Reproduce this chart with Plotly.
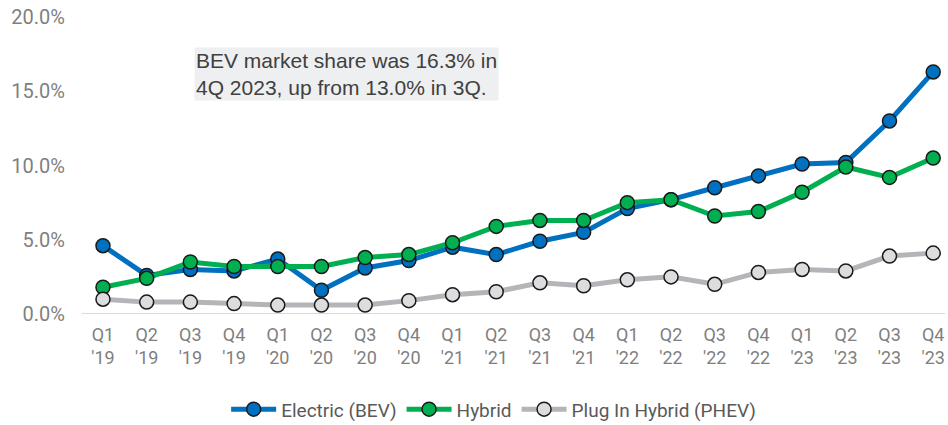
import plotly.graph_objects as go

quarters = ["Q1<br>'19", "Q2<br>'19", "Q3<br>'19", "Q4<br>'19",
            "Q1<br>'20", "Q2<br>'20", "Q3<br>'20", "Q4<br>'20",
            "Q1<br>'21", "Q2<br>'21", "Q3<br>'21", "Q4<br>'21",
            "Q1<br>'22", "Q2<br>'22", "Q3<br>'22", "Q4<br>'22",
            "Q1<br>'23", "Q2<br>'23", "Q3<br>'23", "Q4<br>'23"]

bev = [4.6, 2.6, 3.0, 2.9, 3.7, 1.6, 3.1, 3.6, 4.5, 4.0,
       4.9, 5.5, 7.1, 7.7, 8.5, 9.3, 10.1, 10.2, 13.0, 16.3]
hybrid = [1.8, 2.4, 3.5, 3.2, 3.2, 3.2, 3.8, 4.0, 4.8, 5.9,
          6.3, 6.3, 7.5, 7.7, 6.6, 6.9, 8.2, 9.9, 9.2, 10.5]
phev = [1.0, 0.8, 0.8, 0.7, 0.6, 0.6, 0.6, 0.9, 1.3, 1.5,
        2.1, 1.9, 2.3, 2.5, 2.0, 2.8, 3.0, 2.9, 3.9, 4.1]

y_ticks = [0, 5, 10, 15, 20]
y_tick_labels = ["0.0%", "5.0%", "10.0%", "15.0%", "20.0%"]

FONT = "Roboto, Liberation Sans, sans-serif"
idx = list(range(len(quarters)))

series = [
    ("Electric (BEV)", bev, "#0070c0", "#0070c0"),
    ("Hybrid", hybrid, "#00b050", "#00b050"),
    ("Plug In Hybrid (PHEV)", phev, "#b4b5b8", "#dcdddf"),
]

fig = go.Figure()
for name, vals, lc, mc in series:
    fig.add_trace(go.Scatter(
        x=idx, y=vals, name=name, mode="lines+markers",
        line=dict(color=lc, width=5),
        marker=dict(color=mc, size=14, line=dict(color="#1a1a1a", width=1.5)),
        cliponaxis=False,
    ))

fig.update_layout(
    width=948, height=425,
    margin=dict(l=82, r=3, t=17, b=111),
    paper_bgcolor="white", plot_bgcolor="white",
    font=dict(family=FONT, size=17, color="#7f7f7f"),
    showlegend=True,
    legend=dict(orientation="h", x=0.477, xanchor="center",
                yref="container", y=0.037, yanchor="middle",
                font=dict(size=19, color="#595959"), itemwidth=45),
    xaxis=dict(range=[-0.48, 19.27], tickmode="array", tickvals=idx, ticktext=quarters,
               showgrid=False, zeroline=False, showline=False, automargin=False,
               tickfont=dict(size=18, color="#7f7f7f"), ticks="", ticklabelstandoff=8),
    yaxis=dict(range=[0, 20], tickmode="array", tickvals=y_ticks, ticktext=y_tick_labels,
               showgrid=False, zeroline=False, showline=False, ticks="", automargin=False,
               tickfont=dict(size=20, color="#7f7f7f"), ticklabelstandoff=16),
    shapes=[dict(type="line", xref="paper", yref="y", x0=0, x1=1, y0=0, y1=0,
                 line=dict(color="#d9d9d9", width=2), layer="below")],
    annotations=[dict(
        xref="paper", yref="paper", x=0.1298, y=0.899, xanchor="left", yanchor="top",
        text="BEV market share was 16.3% in<br>4Q 2023, up from 13.0% in 3Q.",
        showarrow=False, align="left", bgcolor="#eeeff0", borderpad=1,
        font=dict(size=21, color="#404040", family="Liberation Sans, Arial, sans-serif"),
    )],
)

fig.write_html("out.html", config={"displayModeBar": False},
               post_script="document.body.style.margin='0';")
